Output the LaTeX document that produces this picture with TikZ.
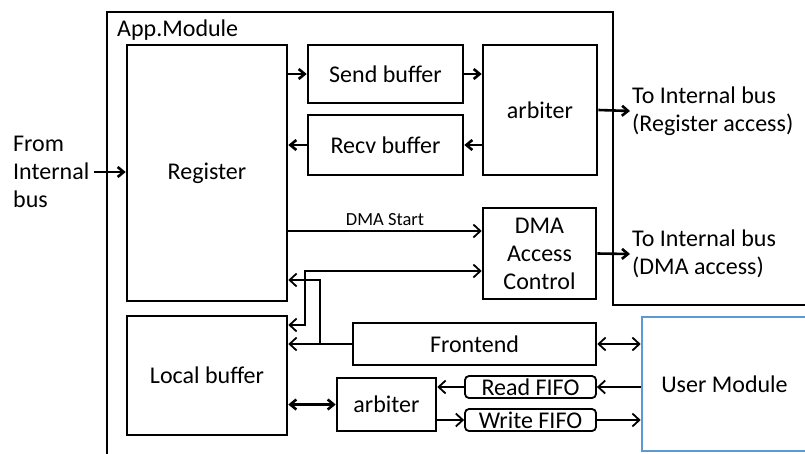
\documentclass[tikz,border=0pt]{standalone}
\usepackage{fontspec}
\setmainfont{Carlito}
\usetikzlibrary{arrows.meta}
\definecolor{umblue}{RGB}{91,155,213}
\begin{document}
\begin{tikzpicture}[x=1pt,y=-1pt,
  txt/.style={font=\fontsize{24}{28}\selectfont},
  box/.style={draw,line width=2.6pt,inner sep=0pt,txt,align=center},
  fifo/.style={draw,line width=1.8pt,rounded corners=4pt,inner sep=0pt,txt},
  lbl/.style={txt,align=left,inner sep=2pt},
  thk/.style={line width=2.6pt,-{Straight Barb[length=6pt,width=10pt]}},
  thkb/.style={line width=2.6pt,{Straight Barb[length=6pt,width=10pt]}-{Straight Barb[length=6pt,width=10pt]}},
  thn/.style={line width=1.8pt,-{Straight Barb[length=7pt,width=13pt]}},
  thnb/.style={line width=1.8pt,{Straight Barb[length=7pt,width=13pt]}-{Straight Barb[length=7pt,width=13pt]}}
]
\useasboundingbox (0,0) rectangle (805,453);
\clip (0,0) rectangle (805,453);
\fill[white] (0,0) rectangle (805,453);

% App.Module outline
\draw[line width=2.6pt] (107,460) -- (107,12) -- (613,12) -- (613,305) -- (810,305);
\node[lbl,anchor=west] (appmod) at (115,30) {App.Module};

% boxes
\node[box,minimum width=160pt,minimum height=256pt] (reg) at (207,173) {Register};
\node[box,minimum width=155pt,minimum height=58pt] (send) at (385.5,74) {Send buffer};
\node[box,minimum width=155pt,minimum height=60pt] (recv) at (385.5,145) {Recv buffer};
\node[box,minimum width=114pt,minimum height=130pt] (arbA) at (540,110) {arbiter};
\node[box,minimum width=113pt,minimum height=91pt] (dma) at (539.5,253.5) {DMA\\Access\\Control};
\node[box,minimum width=160pt,minimum height=119pt] (local) at (207,375.5) {Local buffer};
\node[box,minimum width=243pt,minimum height=42pt] (front) at (474.5,344) {Frontend};
\node[box,minimum width=99pt,minimum height=53pt] (arbB) at (386.5,404.5) {arbiter};
\node[fifo,minimum width=131pt,minimum height=22pt] (rfifo) at (530.5,387) {Read FIFO};
\node[fifo,minimum width=131pt,minimum height=22pt] (wfifo) at (530.5,420) {Write FIFO};
\node[draw=umblue,line width=2.6pt,inner sep=0pt,txt,minimum width=165pt,minimum height=134pt] (um) at (724.5,384) {User Module};

% outside labels
\node[lbl,anchor=west,inner xsep=4pt] (from) at (9,172) {From\\Internal\\bus};
\node[lbl,anchor=west] (toreg) at (630,111) {To Internal bus\\(Register access)};
\node[lbl,anchor=west] (todma) at (630,254) {To Internal bus\\(DMA access)};

% top connectors
\draw[thk] (from.east) -- (reg.west |- from.east);
\draw[thk] (reg.east |- send.west) -- (send.west);
\draw[thk] (send.east) -- (arbA.west |- send.east);
\draw[thk] (arbA.west |- recv.east) -- (recv.east);
\draw[thk] (recv.west) -- (reg.east |- recv.west);
\draw[thk] (arbA.east) -- (toreg.west);
\draw[thk] (dma.east) -- (todma.west);

% DMA start
\draw[thn] (reg.east |- 0,231) -- node[above=1pt,font=\fontsize{18.5}{22}\selectfont] {DMA Start} (dma.west |- 0,231);
% local buffer <-> DMA
\coordinate (jd) at (305,271);
\draw[thnb] (local.east |- 0,325) -| (jd) -- (dma.west |- jd);
% frontend -> register / local
\coordinate (jf) at (320,280);
\draw[thn] (front.west) -- (local.east |- front.west);
\draw[thn] (jf |- front.west) -- (jf) -- (reg.east |- jf);
\draw[thnb] (front.east) -- (um.west |- front.east);

% bottom fifo connectors
\draw[thn] (um.west |- rfifo.east) -- (rfifo.east);
\draw[thn] (rfifo.west) -- (arbB.east |- rfifo.west);
\draw[thn] (arbB.east |- wfifo.west) -- (wfifo.west);
\draw[thn] (wfifo.east) -- (um.west |- wfifo.east);
\draw[thkb] (local.east |- arbB.west) -- (arbB.west);
\end{tikzpicture}
\end{document}
